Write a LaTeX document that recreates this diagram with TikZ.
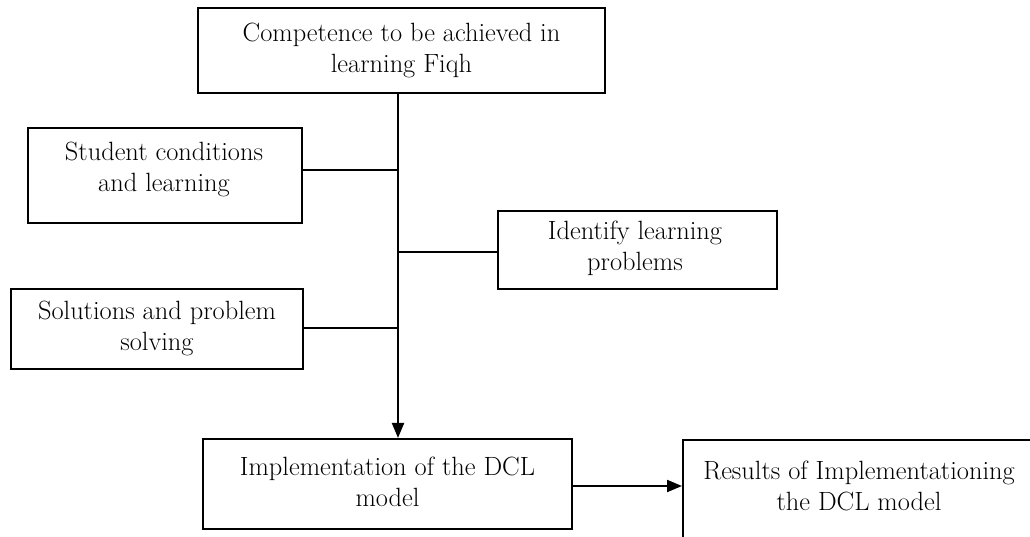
\documentclass[tikz,border=0pt]{standalone}
\usetikzlibrary{arrows.meta}
\begin{document}
\begin{tikzpicture}[x=1pt,y=-1pt,
  box/.style={draw,line width=2.1pt,rectangle,inner sep=0pt},
  txt/.style={align=center,font=\fontsize{26.4}{31}\selectfont,inner sep=0pt},
  conn/.style={line width=2.1pt},
  arr/.style={line width=2.1pt,-{Triangle[length=15pt,width=12pt]}}]
\useasboundingbox (0,0) rectangle (1030,537);
\clip (0,0) rectangle (1030,537);
% boxes
\node[box,minimum width=407pt,minimum height=85pt] (top) at (401.5,50.5) {};
\node[txt] (toptxt) at (401.5,50) {Competence to be achieved in\\learning Fiqh};
\node[box,minimum width=274pt,minimum height=95pt] (student) at (165,175.5) {};
\node[txt] (studtxt) at (164,169) {Student conditions\\and learning};
\node[box,minimum width=279pt,minimum height=78pt] (ident) at (637.5,250) {};
\node[txt] (identtxt) at (635,248) {Identify learning\\problems};
\node[box,minimum width=292pt,minimum height=80pt] (sol) at (157,329) {};
\node[txt] (soltxt) at (157,328) {Solutions and problem\\solving};
\node[box,minimum width=369pt,minimum height=90pt] (impl) at (387.5,484) {};
\node[txt] (impltxt) at (387.5,482) {Implementation of the DCL\\model};
\node[box,minimum width=360pt,minimum height=120pt,anchor=north west] (res) at (682,439) {};
\node[txt] (restxt) at (859,486) {Results of Implementationing\\the DCL model};
% spine
\coordinate (j1) at (398,170);
\coordinate (j2) at (398,252);
\coordinate (j3) at (398,328);
\draw[arr] (top.south -| j1) -- (impl.north -| j1);
\draw[conn] (student.east |- j1) -- (j1);
\draw[conn] (j2) -- (ident.west |- j2);
\draw[conn] (sol.east |- j3) -- (j3);
\draw[arr] (impl.east |- 0,486) -- (res.west |- 0,486);
\end{tikzpicture}
\end{document}
